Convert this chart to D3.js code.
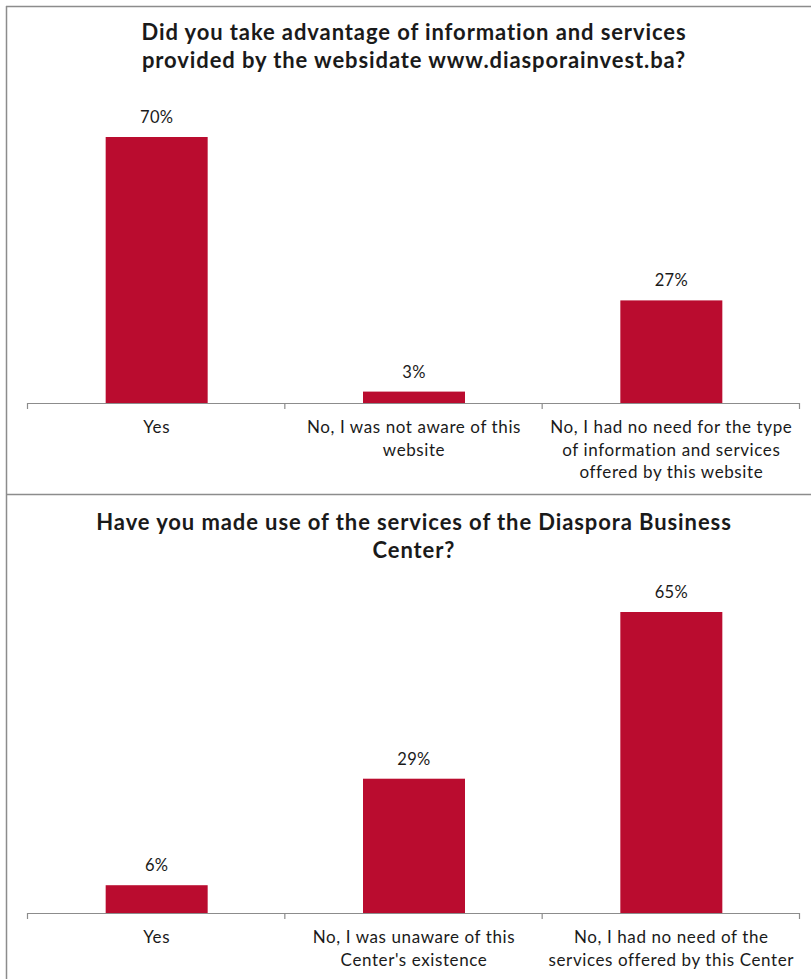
<!DOCTYPE html>
<html>
<head>
<meta charset="utf-8">
<script src="https://cdn.jsdelivr.net/npm/d3@7/dist/d3.min.js"></script>
<style>
  html, body { margin: 0; padding: 0; background: #fff; }
  svg { display: block; }
  text { font-family: "Lato", "Open Sans", sans-serif; fill: #1a1a1a; }
</style>
</head>
<body>
<svg id="chart" width="811" height="979"></svg>
<script>
// Survey question 1: use of the website
const titleA = ["Did you take advantage of information and services",
                "provided by the websidate www.diasporainvest.ba?"];
const categoriesA = [
  ["Yes"],
  ["No, I was not aware of this", "website"],
  ["No, I had no need for the type", "of information and services", "offered by this website"]
];
const valuesA = [70, 3, 27];

// Survey question 2: use of the Diaspora Business Center
const titleB = ["Have you made use of the services of the Diaspora Business",
                "Center?"];
const categoriesB = [
  ["Yes"],
  ["No, I was unaware of this", "Center's existence"],
  ["No, I had no need of the", "services offered by this Center"]
];
const valuesB = [6, 29, 65];

const barColor = "#BA0C2F";
const frameColor = "#8c8c8c";
const svg = d3.select("#chart");

// Outer frame (left and top) and divider between the two panels
svg.append("line").attr("x1", 6.5).attr("x2", 6.5).attr("y1", 6).attr("y2", 979)
  .attr("stroke", frameColor).attr("stroke-width", 1.5);
svg.append("line").attr("x1", 6).attr("x2", 811).attr("y1", 6.5).attr("y2", 6.5)
  .attr("stroke", frameColor).attr("stroke-width", 1.5);
svg.append("line").attr("x1", 6).attr("x2", 811).attr("y1", 494.5).attr("y2", 494.5)
  .attr("stroke", frameColor).attr("stroke-width", 1.5);

function panel(cfg) {
  const g = svg.append("g");
  const keys = cfg.values.map((d, i) => i);

  const x = d3.scaleBand().domain(keys).range([27, 799]).paddingInner(0).paddingOuter(0);
  const y = d3.scaleLinear().domain([0, cfg.yMax]).range([cfg.baseY, cfg.topY]);

  // Title
  const t = g.append("text").attr("text-anchor", "middle")
    .style("font-size", "22px").style("font-weight", "bold")
    .style("letter-spacing", "0.9px");
  cfg.title.forEach((line, i) => {
    t.append("tspan").attr("x", 414).attr("y", cfg.titleY + i * 28).text(line);
  });

  // Bars
  const bw = 102;
  g.selectAll("rect.bar").data(cfg.values).enter().append("rect")
    .attr("class", "bar")
    .attr("x", (d, i) => x(i) + x.bandwidth() / 2 - bw / 2 + 1)
    .attr("width", bw)
    .attr("y", d => y(d))
    .attr("height", d => y(0) - y(d))
    .attr("fill", barColor);

  // Value labels
  g.selectAll("text.val").data(cfg.values).enter().append("text")
    .attr("class", "val")
    .attr("x", (d, i) => x(i) + x.bandwidth() / 2 + 1)
    .attr("y", d => y(d) - 14)
    .attr("text-anchor", "middle")
    .style("font-size", "16.5px")
    .style("letter-spacing", "0.3px")
    .text(d => d + "%");

  // Category axis with tick marks at band boundaries
  const axis = g.append("g").attr("transform", `translate(0,${cfg.baseY})`);
  axis.append("line").attr("x1", x.range()[0]).attr("x2", x.range()[1])
    .attr("y1", 0.5).attr("y2", 0.5).attr("stroke", frameColor).attr("stroke-width", 1.2);
  const bounds = keys.map(k => x(k)).concat([x.range()[1]]);
  axis.selectAll("line.tick").data(bounds).enter().append("line")
    .attr("class", "tick")
    .attr("x1", d => d + 0.5).attr("x2", d => d + 0.5)
    .attr("y1", 0).attr("y2", 6)
    .attr("stroke", frameColor).attr("stroke-width", 1.2);

  // Category labels (multi-line)
  const labels = axis.selectAll("text.cat").data(cfg.categories).enter().append("text")
    .attr("class", "cat")
    .attr("text-anchor", "middle")
    .style("font-size", "17px")
    .style("letter-spacing", "0.6px");
  labels.each(function(lines, i) {
    const el = d3.select(this);
    lines.forEach((line, j) => {
      el.append("tspan")
        .attr("x", x(i) + x.bandwidth() / 2 + 1)
        .attr("y", 30 + j * 22.5)
        .text(line);
    });
  });
}

panel({ title: titleA, titleY: 40, categories: categoriesA, values: valuesA,
        yMax: 70, baseY: 403, topY: 137 });
panel({ title: titleB, titleY: 530, categories: categoriesB, values: valuesB,
        yMax: 65, baseY: 913, topY: 612 });
</script>
</body>
</html>
